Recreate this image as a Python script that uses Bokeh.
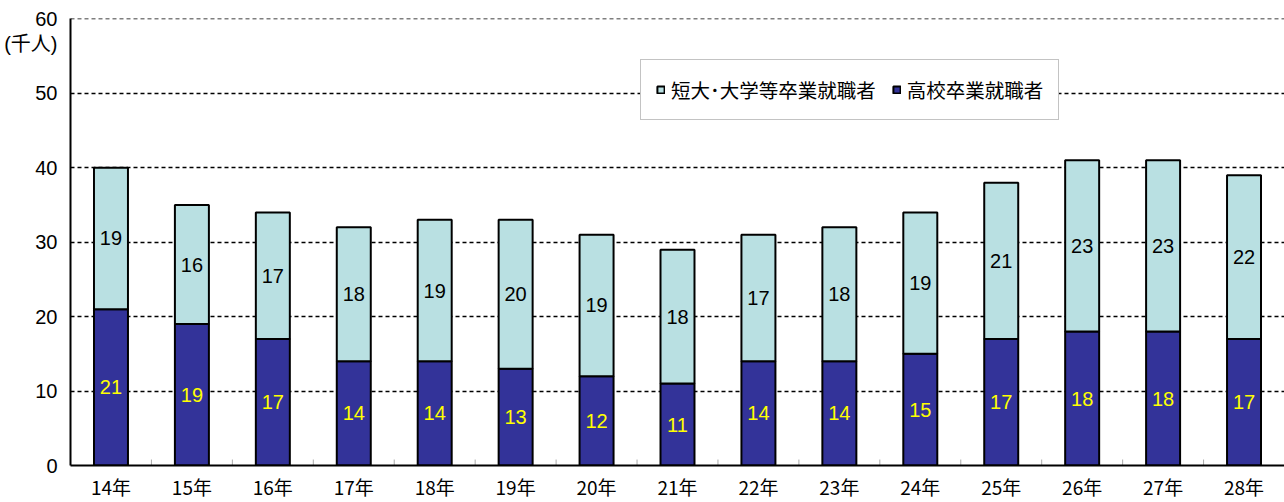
from bokeh.plotting import figure
from bokeh.models import (ColumnDataSource, FactorRange, Range1d, Legend, LegendItem,
                          LabelSet, FixedTicker, SingleIntervalTicker)
from bokeh.transform import dodge
from bokeh.embed import file_html
from bokeh.resources import INLINE
from bokeh.core.properties import value

# 年度別就職者数（千人）
years = ["14年", "15年", "16年", "17年", "18年", "19年", "20年", "21年",
         "22年", "23年", "24年", "25年", "26年", "27年", "28年"]
highschool = [21, 19, 17, 14, 14, 13, 12, 11, 14, 14, 15, 17, 18, 18, 17]
university = [19, 16, 17, 18, 19, 20, 19, 18, 17, 18, 19, 21, 23, 23, 22]
y_ticks = [0, 10, 20, 30, 40, 50, 60]
unit_label = "(千人)"

FONT = "Liberation Sans, Noto Sans CJK JP"
CJK = "Noto Sans CJK JP"
DARK = "#333399"
LIGHT = "#B9E0E2"

total = [h + u for h, u in zip(highschool, university)]
src = ColumnDataSource(dict(
    year=years,
    hs=highschool,
    uni=university,
    hs_mid=[h / 2 for h in highschool],
    uni_mid=[h + u / 2 for h, u in zip(highschool, university)],
    total=total,
    hs_txt=[str(v) for v in highschool],
    uni_txt=[str(v) for v in university],
    zero=[0] * len(years),
    tick_top=[0.8] * len(years),
))

p = figure(width=1284, height=502, x_range=FactorRange(*years, range_padding=0),
           y_range=Range1d(0, 60.05), output_backend="svg", toolbar_location=None,
           min_border_left=70, min_border_right=0, min_border_top=18,
           min_border_bottom=37)
p.outline_line_color = None
p.background_fill_color = "white"

# 縦軸：単位表示は 60 の下に置く
unit_pos = 56.6
p.yaxis.ticker = FixedTicker(ticks=y_ticks + [unit_pos])
p.yaxis.major_label_overrides = {unit_pos: unit_label}
p.yaxis.axis_line_color = "black"
p.yaxis.axis_line_width = 2
p.yaxis.major_tick_line_color = None
p.yaxis.minor_tick_line_color = None
p.yaxis.major_label_text_font = FONT
p.yaxis.major_label_text_font_size = "20px"
p.yaxis.major_label_text_color = "black"
p.yaxis.major_label_standoff = 7

# 横軸
p.xaxis.axis_line_color = "black"
p.xaxis.axis_line_width = 2
p.xaxis.major_tick_line_color = None
p.xaxis.major_label_text_font = CJK
p.xaxis.major_label_text_font_size = "19px"
p.xaxis.major_label_text_color = "black"
p.xaxis.major_label_standoff = 1

p.xgrid.grid_line_color = None
p.ygrid.ticker = SingleIntervalTicker(interval=10)
p.ygrid.grid_line_color = "black"
p.ygrid.grid_line_dash = "4 3"
p.ygrid.grid_line_width = 1.5

# 区切り目盛り
p.segment(x0=dodge("year", 0.5, range=p.x_range), y0="zero",
          x1=dodge("year", 0.5, range=p.x_range), y1="tick_top",
          source=src, line_color="#aaaaaa", line_width=1)

bw = 0.42
r_hs = p.vbar(x="year", bottom=0, top="hs", width=bw, source=src,
              fill_color=DARK, line_color="black", line_width=2)
r_uni = p.vbar(x="year", bottom="hs", top="total", width=bw, source=src,
               fill_color=LIGHT, line_color="black", line_width=2)

p.add_layout(LabelSet(x="year", y="hs_mid", text="hs_txt", source=src,
                      text_align="center", text_baseline="middle",
                      text_color="#FFFF00", text_font=value(FONT),
                      text_font_size="20px"))
p.add_layout(LabelSet(x="year", y="uni_mid", text="uni_txt", source=src,
                      text_align="center", text_baseline="middle",
                      text_color="black", text_font=value(FONT),
                      text_font_size="20px"))

legend = Legend(items=[LegendItem(label="短大･大学等卒業就職者", renderers=[r_uni]),
                       LegendItem(label="高校卒業就職者", renderers=[r_hs])],
                orientation="horizontal", location=(570, 345),
                label_text_font=CJK, label_text_font_size="19.5px",
                label_text_color="black", glyph_width=9, glyph_height=9,
                label_standoff=6, spacing=16, padding=15, margin=0,
                border_line_color="#888888", border_line_width=1,
                background_fill_color="white", background_fill_alpha=1.0)
p.add_layout(legend, "center")

open("out.html", "w").write(file_html(p, INLINE))
